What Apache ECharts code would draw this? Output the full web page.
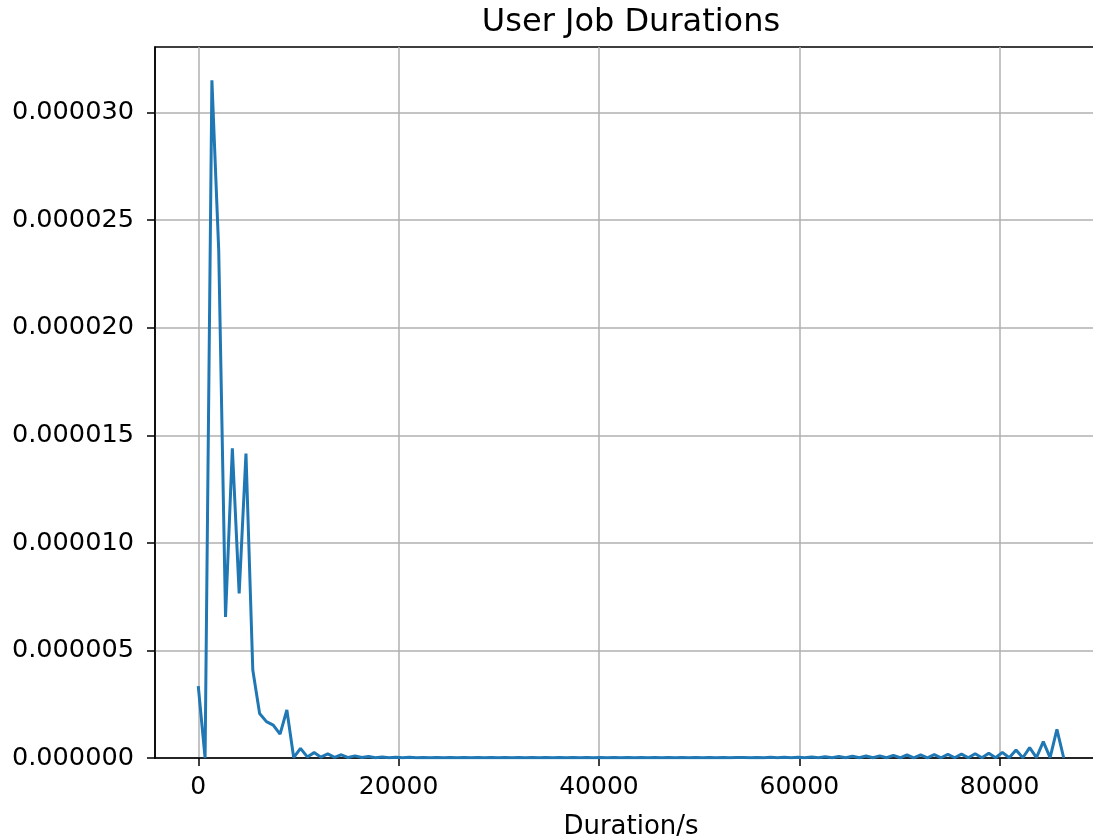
<!DOCTYPE html>
<html>
<head>
<meta charset="utf-8">
<script src="https://cdn.jsdelivr.net/npm/echarts@6/dist/echarts.min.js"></script>
<style>html,body{margin:0;padding:0;background:#fff}#c{width:1093px;height:840px}</style>
</head>
<body>
<div id="c"></div>
<script>
// Durations (seconds) of each point
const durations = [0,680,1361,2041,2721,3402,4082,4762,5443,6123,6803,7483,8164,8844,9524,10205,10885,11565,12246,12926,
13606,14287,14967,15647,16328,17008,17688,18369,19049,19729,20409,21090,21770,22450,23131,23811,24491,25172,25852,26532,
27213,27893,28573,29254,29934,30614,31295,31975,32655,33335,34016,34696,35376,36057,36737,37417,38098,38778,39458,40139,
40819,41499,42180,42860,43540,44220,44901,45581,46261,46942,47622,48302,48983,49663,50343,51024,51704,52384,53065,53745,
54425,55106,55786,56466,57146,57827,58507,59187,59868,60548,61228,61909,62589,63269,63950,64630,65310,65991,66671,67351,
68031,68712,69392,70072,70753,71433,72113,72794,73474,74154,74835,75515,76195,76876,77556,78236,78917,79597,80277,80957,
81638,82318,82998,83679,84359,85039,85720,86400];
// Density values (x 1e-6)
const densityMicro = [3.34,0,31.5,23.6,6.56,14.4,7.65,14.15,4.09,2.07,1.69,1.53,1.11,2.23,0.02,0.45,0.05,0.25,0.04,0.19,
0.03,0.15,0.02,0.10,0.02,0.07,0.01,0.05,0.01,0.04,0.01,0.03,0.01,0.02,0.01,0.02,0.01,0.02,0.01,0.02,
0.01,0.02,0.01,0.02,0.01,0.02,0.01,0.02,0.01,0.02,0.01,0.02,0.01,0.02,0.01,0.02,0.01,0.02,0.01,0.02,
0.01,0.02,0.01,0.02,0.01,0.02,0.01,0.02,0.01,0.02,0.01,0.02,0.01,0.02,0.01,0.02,0.01,0.02,0.01,0.02,
0.02,0.01,0.02,0.01,0.03,0.01,0.03,0.01,0.04,0.01,0.05,0.01,0.06,0.01,0.07,0.01,0.08,0.01,0.09,0.01,
0.10,0.01,0.12,0.01,0.14,0.01,0.15,0.01,0.16,0.01,0.17,0.01,0.18,0.01,0.20,0.01,0.22,0.01,0.26,0.01,
0.37,0.01,0.48,0.02,0.76,0.02,1.33,0];
const xTicks = [0,20000,40000,60000,80000];
const yTicks = [0,0.000005,0.00001,0.000015,0.00002,0.000025,0.00003];
const titleText = 'User Job Durations';
const xName = 'Duration/s';

const data = durations.map((d,i)=>[d, densityMicro[i]*1e-6]);
const chart = echarts.init(document.getElementById('c'), null, {renderer:'canvas'});
const font = 'DejaVu Sans';
chart.setOption({
  animation:false,
  title:{text:titleText,left:626,top:2,textAlign:'center',textStyle:{fontFamily:font,fontSize:32,fontWeight:'normal',color:'#000'}},
  grid:{left:155,top:47,width:952,height:711,outerBoundsMode:'none',containLabel:false,show:true,borderColor:'#000',borderWidth:1.5,backgroundColor:'transparent'},
  xAxis:{type:'value',min:-4320,max:90720,
    name:xName,nameLocation:'middle',nameGap:56,nameTextStyle:{fontFamily:font,fontSize:26,color:'#000'},
    axisLine:{show:true,onZero:false,lineStyle:{color:'#000',width:1.5}},
    axisTick:{show:true,length:8,lineStyle:{color:'#000',width:1.5},customValues:xTicks},
    axisLabel:{fontFamily:font,fontSize:25,color:'#000',margin:17,customValues:xTicks,formatter:v=>String(v)},
    splitLine:{show:true,lineStyle:{color:'#b0b0b0',width:1.5}}
  },
  yAxis:{type:'value',min:0,max:0.00003305,interval:0.000005,
    axisLine:{show:true,onZero:false,lineStyle:{color:'#000',width:1.5}},
    axisTick:{show:true,length:8,lineStyle:{color:'#000',width:1.5},customValues:yTicks},
    axisLabel:{fontFamily:font,fontSize:25.6,color:'#000',margin:21,customValues:yTicks,formatter:v=>v.toFixed(6)},
    splitLine:{show:true,lineStyle:{color:'#b0b0b0',width:1.5}}
  },
  series:[{type:'line',data:data,showSymbol:false,symbol:'none',lineStyle:{color:'#1f77b4',width:3},itemStyle:{color:'#1f77b4'},z:5}]
});
</script>
</body>
</html>
